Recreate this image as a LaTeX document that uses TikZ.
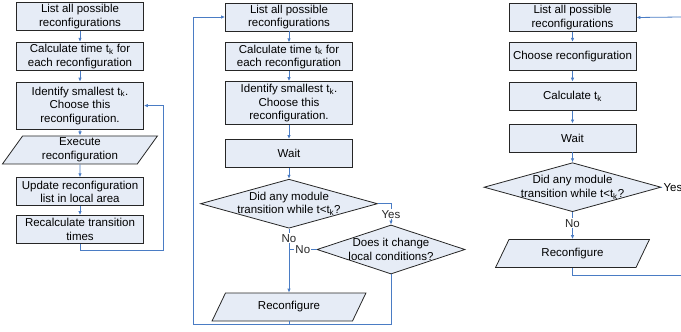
\documentclass[tikz,border=0pt]{standalone}
\usepackage{fontspec}
\setmainfont{Liberation Sans}
\usetikzlibrary{arrows.meta,positioning,shapes.geometric}
\definecolor{FlowFill}{HTML}{E6ECF6}
\definecolor{FlowEdge}{HTML}{262626}
\definecolor{FlowBlue}{HTML}{4A7CC4}

\begin{document}
\begin{tikzpicture}[x=1pt,y=-1pt,
    node distance=10pt,
    every node/.style={font=\fontsize{11.5}{13.5}\selectfont},
    box/.style={draw=FlowEdge,line width=0.8pt,fill=FlowFill,
                minimum width=127pt,minimum height=28pt,inner sep=1.5pt,align=center},
    iobox/.style={trapezium,trapezium left angle=62,trapezium right angle=118,
                trapezium stretches=true,draw=FlowEdge,line width=0.8pt,fill=FlowFill,
                minimum width=155pt,minimum height=28pt,inner sep=1pt,align=center},
    decision/.style={diamond,aspect=3.6,draw=FlowEdge,line width=0.8pt,fill=FlowFill,
                inner sep=-12pt,minimum width=177pt,minimum height=49pt,align=center},
    arrow/.style={-{Latex[length=4pt,width=3.5pt]},line width=0.8pt,color=FlowBlue},
    link/.style={line width=0.8pt,color=FlowBlue},
    tag/.style={fill=white,text=FlowEdge,inner sep=1pt}
  ]
    \useasboundingbox (0,0) rectangle (681,332);

    % first scheme
    \node[box] (l1) at (80,16.5) {List all possible\\reconfigurations};
    \node[box,below=11pt of l1] (l2) {Calculate time t\textsubscript{k} for\\each reconfiguration};
    \node[box,below=11pt of l2,minimum height=47pt] (l3) {Identify smallest t\textsubscript{k}.\\Choose this\\reconfiguration.};
    \node[iobox,below=6pt of l3] (l4) {Execute\\reconfiguration};
    \node[box,below=13pt of l4] (l5) {Update reconfiguration\\list in local area};
    \node[box,below=9pt of l5] (l6) {Recalculate transition\\times};
    \coordinate (lret) at (163,250);
    \draw[arrow] (l1) -- (l2);
    \draw[arrow] (l2) -- (l3);
    \draw[arrow] (l3) -- (l4);
    \draw[arrow] (l4) -- (l5);
    \draw[arrow] (l5) -- (l6);
    \draw[arrow] (l6.south) |- (lret) |- (l3.east);

    % second scheme
    \node[box] (m1) at (289,17) {List all possible\\reconfigurations};
    \node[box,below=11pt of m1] (m2) {Calculate time t\textsubscript{k} for\\each reconfiguration};
    \node[box,below=10pt of m2,minimum height=43pt] (m3) {Identify smallest t\textsubscript{k}.\\Choose this\\reconfiguration.};
    \node[box,below=14pt of m3] (m4) {Wait};
    \node[decision,below=11pt of m4] (d1) {Did any module\\transition while t<t\textsubscript{k}?};
    \node[decision,minimum width=148pt] (d2) at (391,249.5) {Does it change\\local conditions?};
    \node[iobox,below=64pt of d1] (m5) {Reconfigure};
    \coordinate (mret) at (193,324);
    \draw[arrow] (m1) -- (m2);
    \draw[arrow] (m2) -- (m3);
    \draw[arrow] (m3) -- (m4);
    \draw[arrow] (m4) -- (d1);
    \draw[arrow] (d1.east) -| node[tag,pos=0.75] {Yes} (d2.north);
    \draw[arrow] (d1.south) -- node[tag,pos=0.15] {No} (m5.north);
    \draw[link] (d2.west) -- node[tag] {No} (d2.west -| d1.south);
    \draw[link] (m5.south) -- (m5.south |- mret);
    \draw[arrow] (d2.south) |- (mret) |- (m1.west);

    % third scheme
    \node[box] (r1) at (572.5,17.5) {List all possible\\reconfigurations};
    \node[box,below=10pt of r1] (r2) {Choose reconfiguration};
    \node[box,below=11pt of r2] (r3) {Calculate t\textsubscript{k}};
    \node[box,below=13pt of r3] (r4) {Wait};
    \node[decision,below=10pt of r4] (rd) {Did any module\\transition while t<t\textsubscript{k}?};
    \node[right=1pt of rd,inner sep=1pt] (ryes) {Yes};
    \node[iobox,below=27pt of rd] (r5) {Reconfigure};
    \coordinate (rin) at (681,17);
    \coordinate (rout) at (681,275);
    \draw[arrow] (r1) -- (r2);
    \draw[arrow] (r2) -- (r3);
    \draw[arrow] (r3) -- (r4);
    \draw[arrow] (r4) -- (rd);
    \draw[link] (rd.east) -- (ryes.west);
    \draw[arrow] (rd.south) -- node[tag,pos=0.42] {No} (r5.north);
    \draw[link] (r5.south) |- (rout);
    \draw[arrow] (rin) -- (r1.east);
  \end{tikzpicture}
\end{document}
